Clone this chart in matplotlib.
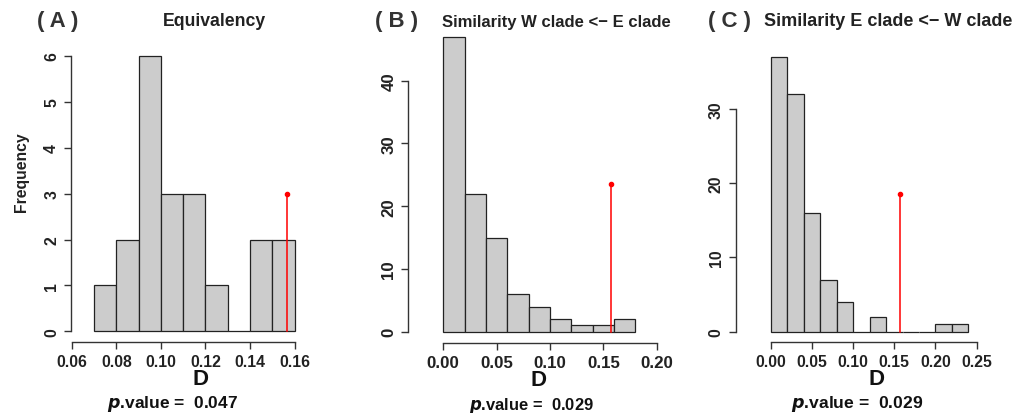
import numpy as np
import matplotlib
matplotlib.use("Agg")
import matplotlib.pyplot as plt

plt.rcParams['font.family'] = ['Liberation Sans', 'DejaVu Sans']
plt.rcParams['font.weight'] = 'bold'

# histogram data
breaks_a = [0.07, 0.08, 0.09, 0.10, 0.11, 0.12, 0.13, 0.14, 0.15, 0.16]
counts_a = [1, 2, 6, 3, 3, 1, 0, 2, 2]
breaks_b = [0.00, 0.02, 0.04, 0.06, 0.08, 0.10, 0.12, 0.14, 0.16, 0.18]
counts_b = [47, 22, 15, 6, 4, 2, 1, 1, 2]
breaks_c = [0.00, 0.02, 0.04, 0.06, 0.08, 0.10, 0.12, 0.14, 0.16, 0.18, 0.20, 0.22, 0.24]
counts_c = [37, 32, 16, 7, 4, 0, 2, 0, 0, 0, 1, 1]

observed_d = [0.1565, 0.157, 0.157]
obs_height = [3, 23.5, 18.5]
p_values = ["0.047", "0.029", "0.029"]

letters = ["( A )", "( B )", "( C )"]
titles = ["Equivalency", "Similarity W clade <\u2212 E clade", "Similarity E clade <\u2212 W clade"]

xticks = [[0.06, 0.08, 0.10, 0.12, 0.14, 0.16],
          [0.00, 0.05, 0.10, 0.15, 0.20],
          [0.00, 0.05, 0.10, 0.15, 0.20, 0.25]]
yticks = [[0, 1, 2, 3, 4, 5, 6], [0, 10, 20, 30, 40], [0, 10, 20, 30]]

W, H = 1024, 414
# axes boxes in pixels: left, right, top, bottom, plus limits
boxes = [(71, 306, 46, 343.3), (408.3, 662, 28.3, 344.3), (735.5, 980.8, 47, 343.3)]
xlims = [(0.0597, 0.1651), (-0.0328, 0.205), (-0.0428, 0.255)]
ylims = [(-0.24, 6.24), (-1.85, 48.5), (-1.43, 38.5)]

# label positions (pixels; D and p.value given as baselines)
letter_pos = [(58, 22), (397, 22), (729, 22)]
title_pos = [(214, 21), (556, 22), (888, 22)]
d_pos = [(201, 385), (538, 385.7), (877, 385)]
p_pos = [(173, 408), (531, 410), (857, 408)]

# per-panel font sizes (panels were scaled a little differently)
tick_fs = [11.3, 12.2, 11.3]
title_fs = [12.7, 12, 13]
p_fs = [12.5, 11.9, 12.6]

fig = plt.figure(figsize=(W / 100, H / 100), dpi=100)
axcol = "#333333"

data = [(breaks_a, counts_a), (breaks_b, counts_b), (breaks_c, counts_c)]
for i, (br, ct) in enumerate(data):
    l, r, t, b = boxes[i]
    ax = fig.add_axes([l / W, 1 - b / H, (r - l) / W, (b - t) / H])
    br = np.array(br)
    ax.bar(br[:-1], ct, width=np.diff(br), align="edge", color="#cccccc",
           edgecolor="#222222", linewidth=0.9)
    ax.plot([observed_d[i], observed_d[i]], [0, obs_height[i]], color="red", lw=1.1)
    ax.plot([observed_d[i]], [obs_height[i]], "o", color="red", ms=3)
    ax.set_xlim(*xlims[i])
    ax.set_ylim(*ylims[i])
    for s in ["top", "right"]:
        ax.spines[s].set_visible(False)
    ax.spines["left"].set_bounds(yticks[i][0], yticks[i][-1])
    ax.spines["bottom"].set_bounds(xticks[i][0], xticks[i][-1])
    for s in ["left", "bottom"]:
        ax.spines[s].set_color(axcol)
        ax.spines[s].set_linewidth(1.0)
    ax.set_xticks(xticks[i])
    ax.set_xticklabels(["%.2f" % v for v in xticks[i]])
    ax.set_yticks(yticks[i])
    ax.set_yticklabels([str(v) for v in yticks[i]], rotation=90, va="center")
    ax.tick_params(axis="both", length=5, width=1.0, color=axcol,
                   labelsize=tick_fs[i], labelcolor="#222222")
    for lab in ax.get_xticklabels() + ax.get_yticklabels():
        lab.set_fontweight("bold")

    lx, ly = letter_pos[i]
    fig.text(lx / W, 1 - ly / H, letters[i], fontsize=16, fontweight="bold",
             color="#333333", ha="center", va="center")
    tx, ty = title_pos[i]
    fig.text(tx / W, 1 - ty / H, titles[i], fontsize=title_fs[i], fontweight="bold",
             color="#222222", ha="center", va="center")
    dx, dy = d_pos[i]
    fig.text(dx / W, 1 - dy / H, "D", fontsize=16, fontweight="bold",
             color="#111111", ha="center", va="baseline")
    px, py = p_pos[i]
    fig.text(px / W, 1 - py / H, r"$\mathbf{\it{p}}$" + ".value =  " + p_values[i],
             fontsize=p_fs[i], fontweight="bold", color="#111111", ha="center",
             va="baseline")

fig.text(22 / W, 1 - 172 / H, "Frequency", rotation=90, fontsize=11.3,
         fontweight="bold", color="#222222", ha="center", va="center")

fig.savefig("out.png", dpi=100)
